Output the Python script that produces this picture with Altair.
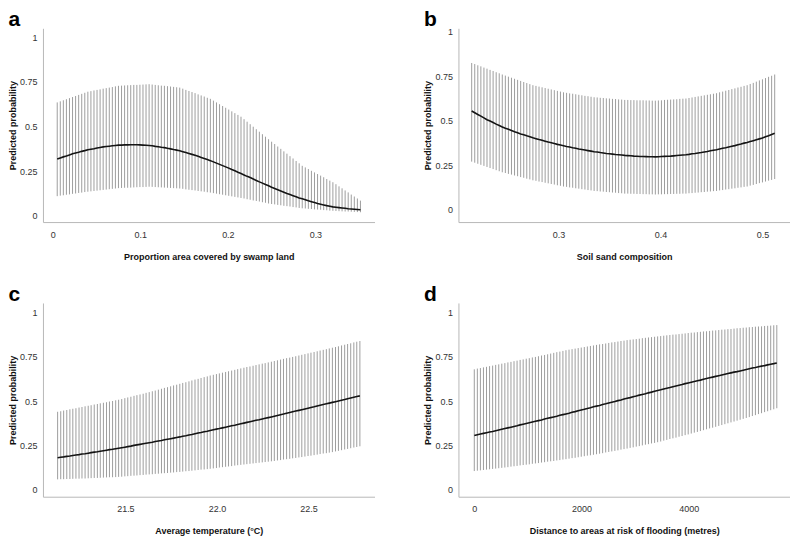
import altair as alt
import pandas as pd

FONT = "Liberation Sans"

# ---------------- Panel a: swamp land ----------------
a_x = [0.005, 0.0085, 0.012, 0.0155, 0.019, 0.0225, 0.026, 0.0295, 0.033, 0.0365,
       0.04, 0.0435, 0.047, 0.0505, 0.054, 0.0575, 0.061, 0.0645, 0.068, 0.0715,
       0.075, 0.0785, 0.082, 0.0855, 0.089, 0.0925, 0.096, 0.0995, 0.103, 0.1065,
       0.11, 0.1135, 0.117, 0.1205, 0.124, 0.1275, 0.131, 0.1345, 0.138, 0.1415,
       0.145, 0.1485, 0.152, 0.1555, 0.159, 0.1625, 0.166, 0.1695, 0.173, 0.1765,
       0.18, 0.1835, 0.187, 0.1905, 0.194, 0.1975, 0.201, 0.2045, 0.208, 0.2115,
       0.215, 0.2185, 0.222, 0.2255, 0.229, 0.2325, 0.236, 0.2395, 0.243, 0.2465,
       0.25, 0.2535, 0.257, 0.2605, 0.264, 0.2675, 0.271, 0.2745, 0.278, 0.2815,
       0.285, 0.2885, 0.292, 0.2955, 0.299, 0.3025, 0.306, 0.3095, 0.313, 0.3165,
       0.32, 0.3235, 0.327, 0.3305, 0.334, 0.3375, 0.341, 0.3445, 0.348, 0.3515]
a_mid = [0.318, 0.324, 0.330, 0.335, 0.341, 0.347,
         0.352, 0.356, 0.361, 0.365, 0.370,
         0.373, 0.376, 0.380, 0.383, 0.386,
         0.388, 0.390, 0.392, 0.394, 0.396,
         0.396, 0.397, 0.397, 0.398, 0.398,
         0.398, 0.397, 0.396, 0.395, 0.394,
         0.392, 0.389, 0.387, 0.384, 0.382,
         0.378, 0.375, 0.371, 0.368, 0.364,
         0.359, 0.354, 0.349, 0.344, 0.339,
         0.333, 0.327, 0.321, 0.315, 0.309,
         0.302, 0.295, 0.288, 0.281, 0.274,
         0.267, 0.259, 0.252, 0.244, 0.237,
         0.229, 0.221, 0.214, 0.206, 0.198,
         0.190, 0.183, 0.175, 0.168, 0.160,
         0.153, 0.146, 0.139, 0.132, 0.125,
         0.119, 0.113, 0.107, 0.100, 0.095,
         0.090, 0.084, 0.079, 0.074, 0.069,
         0.065, 0.061, 0.057, 0.054, 0.050,
         0.048, 0.046, 0.044, 0.042, 0.040,
         0.0385, 0.037, 0.0355, 0.034]
a_hi = [0.635, 0.641, 0.647, 0.653, 0.659, 0.665, 0.671, 0.677, 0.683, 0.689, 0.695,
        0.698, 0.702, 0.705, 0.708, 0.712, 0.715, 0.718, 0.721, 0.725, 0.728,
        0.729, 0.730, 0.731, 0.732, 0.733, 0.733, 0.734, 0.735, 0.736, 0.737,
        0.735, 0.733, 0.731, 0.729, 0.728, 0.726, 0.724, 0.722, 0.720, 0.718,
        0.712, 0.705, 0.699, 0.693, 0.687, 0.680, 0.674, 0.668, 0.661, 0.655,
        0.645, 0.635, 0.625, 0.615, 0.605, 0.595, 0.585, 0.575, 0.565, 0.555,
        0.541, 0.527, 0.513, 0.499, 0.485, 0.471, 0.457, 0.443, 0.429, 0.415,
        0.402, 0.388, 0.375, 0.361, 0.348, 0.334, 0.321, 0.307, 0.294, 0.280,
        0.271, 0.262, 0.252, 0.243, 0.234, 0.225, 0.216, 0.206, 0.197, 0.188,
        0.177, 0.165, 0.154, 0.142, 0.131, 0.119, 0.108, 0.097, 0.085]
a_lo = [0.110, 0.113, 0.115, 0.118, 0.120, 0.123, 0.125, 0.128, 0.130, 0.133, 0.135,
        0.137, 0.139, 0.141, 0.143, 0.145, 0.147, 0.149, 0.151, 0.153, 0.155,
        0.156, 0.157, 0.157, 0.158, 0.159, 0.160, 0.161, 0.161, 0.162, 0.163,
        0.162, 0.161, 0.160, 0.159, 0.158, 0.157, 0.156, 0.155, 0.154, 0.153,
        0.151, 0.148, 0.146, 0.144, 0.142, 0.139, 0.137, 0.135, 0.132, 0.130,
        0.127, 0.124, 0.121, 0.118, 0.115, 0.112, 0.109, 0.106, 0.103, 0.100,
        0.097, 0.093, 0.090, 0.086, 0.083, 0.080, 0.076, 0.073, 0.069, 0.066,
        0.064, 0.061, 0.059, 0.056, 0.054, 0.052, 0.049, 0.047, 0.044, 0.042,
        0.041, 0.039, 0.038, 0.036, 0.035, 0.034, 0.032, 0.031, 0.029, 0.028,
        0.027, 0.026, 0.025, 0.024, 0.024, 0.023, 0.022, 0.021, 0.020]

# ---------------- Panel b: soil sand ----------------
b_x = [0.215, 0.218, 0.221, 0.224, 0.227, 0.230, 0.233, 0.236, 0.239, 0.242,
       0.245, 0.248, 0.251, 0.254, 0.257, 0.260, 0.263, 0.266, 0.269, 0.272,
       0.275, 0.278, 0.281, 0.284, 0.287, 0.290, 0.293, 0.296, 0.299, 0.302,
       0.305, 0.308, 0.311, 0.314, 0.317, 0.320, 0.323, 0.326, 0.329, 0.332,
       0.335, 0.338, 0.341, 0.344, 0.347, 0.350, 0.353, 0.356, 0.359, 0.362,
       0.365, 0.368, 0.371, 0.374, 0.377, 0.380, 0.383, 0.386, 0.389, 0.392,
       0.395, 0.398, 0.401, 0.404, 0.407, 0.410, 0.413, 0.416, 0.419, 0.422,
       0.425, 0.428, 0.431, 0.434, 0.437, 0.440, 0.443, 0.446, 0.449, 0.452,
       0.455, 0.458, 0.461, 0.464, 0.467, 0.470, 0.473, 0.476, 0.479, 0.482,
       0.485, 0.488, 0.491, 0.494, 0.497, 0.500, 0.503, 0.506, 0.509, 0.512]
b_mid = [0.555, 0.545, 0.535, 0.526, 0.516, 0.506,
         0.498, 0.490, 0.481, 0.473, 0.465,
         0.458, 0.452, 0.445, 0.438, 0.432,
         0.426, 0.421, 0.415, 0.410, 0.404,
         0.399, 0.394, 0.390, 0.385, 0.380,
         0.376, 0.372, 0.367, 0.363, 0.359,
         0.355, 0.352, 0.348, 0.345, 0.341,
         0.338, 0.335, 0.332, 0.329, 0.326,
         0.324, 0.321, 0.319, 0.316, 0.314,
         0.312, 0.310, 0.309, 0.307, 0.305,
         0.304, 0.303, 0.301, 0.300, 0.299,
         0.2986, 0.2982, 0.2978, 0.2974, 0.297,
         0.2978, 0.2986, 0.2994, 0.3002, 0.301,
         0.3026, 0.3042, 0.3058, 0.3074, 0.309,
         0.311, 0.314, 0.316, 0.319, 0.321,
         0.324, 0.327, 0.331, 0.334, 0.337,
         0.341, 0.345, 0.348, 0.352, 0.356,
         0.360, 0.365, 0.369, 0.374, 0.378,
         0.383, 0.388, 0.393, 0.398, 0.403,
         0.410, 0.416, 0.423, 0.430]
b_hi = [0.825, 0.819, 0.812, 0.806, 0.799, 0.793, 0.786, 0.780, 0.773, 0.767, 0.760,
        0.754, 0.748, 0.742, 0.736, 0.730, 0.724, 0.718, 0.712, 0.706, 0.700,
        0.696, 0.692, 0.688, 0.684, 0.680, 0.676, 0.672, 0.668, 0.664, 0.660,
        0.657, 0.654, 0.652, 0.649, 0.646, 0.643, 0.640, 0.638, 0.635, 0.632,
        0.631, 0.629, 0.628, 0.626, 0.625, 0.623, 0.622, 0.620, 0.619, 0.617,
        0.617, 0.616, 0.616, 0.615, 0.615, 0.615, 0.614, 0.614, 0.613, 0.613,
        0.614, 0.615, 0.617, 0.618, 0.619, 0.620, 0.621, 0.623, 0.624, 0.625,
        0.628, 0.631, 0.634, 0.637, 0.640, 0.643, 0.646, 0.649, 0.652, 0.655,
        0.660, 0.664, 0.669, 0.673, 0.678, 0.682, 0.687, 0.691, 0.696, 0.700,
        0.707, 0.713, 0.720, 0.727, 0.733, 0.740, 0.747, 0.753, 0.760]
b_lo = [0.270, 0.264, 0.258, 0.252, 0.246, 0.240, 0.234, 0.228, 0.222, 0.216, 0.210,
        0.206, 0.201, 0.197, 0.192, 0.188, 0.183, 0.179, 0.174, 0.170, 0.165,
        0.162, 0.158, 0.155, 0.151, 0.148, 0.144, 0.141, 0.137, 0.134, 0.130,
        0.128, 0.125, 0.123, 0.120, 0.118, 0.115, 0.113, 0.110, 0.108, 0.105,
        0.104, 0.102, 0.101, 0.099, 0.098, 0.096, 0.095, 0.093, 0.092, 0.090,
        0.090, 0.089, 0.089, 0.088, 0.088, 0.087, 0.087, 0.086, 0.086, 0.085,
        0.086, 0.086, 0.087, 0.087, 0.088, 0.088, 0.089, 0.089, 0.090, 0.090,
        0.092, 0.093, 0.095, 0.096, 0.098, 0.099, 0.101, 0.102, 0.104, 0.105,
        0.108, 0.110, 0.113, 0.115, 0.118, 0.120, 0.123, 0.125, 0.128, 0.130,
        0.135, 0.139, 0.144, 0.149, 0.153, 0.158, 0.163, 0.167, 0.172]

# ---------------- Panel c: temperature ----------------
c_x = [21.130, 21.147, 21.163, 21.180, 21.197, 21.213, 21.230, 21.247, 21.263, 21.280,
       21.297, 21.313, 21.330, 21.347, 21.363, 21.380, 21.397, 21.413, 21.430, 21.447,
       21.463, 21.480, 21.497, 21.513, 21.530, 21.547, 21.563, 21.580, 21.597, 21.613,
       21.630, 21.647, 21.663, 21.680, 21.697, 21.713, 21.730, 21.747, 21.763, 21.780,
       21.797, 21.813, 21.830, 21.847, 21.863, 21.880, 21.897, 21.913, 21.930, 21.947,
       21.963, 21.980, 21.997, 22.013, 22.030, 22.047, 22.063, 22.080, 22.097, 22.113,
       22.130, 22.147, 22.163, 22.180, 22.197, 22.213, 22.230, 22.247, 22.263, 22.280,
       22.297, 22.313, 22.330, 22.347, 22.363, 22.380, 22.397, 22.413, 22.430, 22.447,
       22.463, 22.480, 22.497, 22.513, 22.530, 22.547, 22.563, 22.580, 22.597, 22.613,
       22.630, 22.647, 22.663, 22.680, 22.697, 22.713, 22.730, 22.747, 22.763, 22.780]
c_mid = [0.180, 0.183, 0.185, 0.188, 0.190, 0.193, 0.196, 0.198, 0.201, 0.203, 0.206,
         0.209, 0.212, 0.214, 0.217, 0.220, 0.223, 0.226, 0.228, 0.231, 0.234,
         0.237, 0.240, 0.243, 0.246, 0.250, 0.253, 0.256, 0.259, 0.262, 0.265,
         0.268, 0.272, 0.275, 0.278, 0.282, 0.285, 0.288, 0.291, 0.295, 0.298,
         0.302, 0.305, 0.309, 0.312, 0.316, 0.320, 0.323, 0.327, 0.330, 0.334,
         0.338, 0.342, 0.345, 0.349, 0.353, 0.357, 0.361, 0.364, 0.368, 0.372,
         0.376, 0.380, 0.384, 0.388, 0.392, 0.395, 0.399, 0.403, 0.407, 0.411,
         0.415, 0.419, 0.423, 0.427, 0.432, 0.436, 0.440, 0.444, 0.448, 0.452,
         0.456, 0.460, 0.464, 0.468, 0.473, 0.477, 0.481, 0.485, 0.489, 0.493,
         0.497, 0.501, 0.505, 0.509, 0.514, 0.518, 0.522, 0.526, 0.530]
c_hi = [0.440, 0.443, 0.447, 0.450, 0.454, 0.457, 0.460, 0.464, 0.467, 0.471, 0.474,
        0.477, 0.481, 0.484, 0.488, 0.491, 0.494, 0.498, 0.501, 0.505, 0.508,
        0.512, 0.517, 0.521, 0.525, 0.530, 0.534, 0.538, 0.542, 0.547, 0.551,
        0.556, 0.560, 0.565, 0.570, 0.575, 0.579, 0.584, 0.589, 0.593, 0.598,
        0.603, 0.607, 0.612, 0.617, 0.622, 0.626, 0.631, 0.636, 0.640, 0.645,
        0.649, 0.653, 0.657, 0.661, 0.665, 0.669, 0.673, 0.677, 0.681, 0.685,
        0.689, 0.693, 0.696, 0.700, 0.704, 0.708, 0.712, 0.715, 0.719, 0.723,
        0.727, 0.731, 0.735, 0.739, 0.743, 0.746, 0.750, 0.754, 0.758, 0.762,
        0.766, 0.770, 0.774, 0.778, 0.782, 0.786, 0.790, 0.794, 0.798, 0.802,
        0.806, 0.810, 0.815, 0.819, 0.823, 0.827, 0.832, 0.836, 0.840]
c_lo = [0.058, 0.059, 0.059, 0.060, 0.060, 0.061, 0.062, 0.062, 0.063, 0.063, 0.064,
        0.065, 0.066, 0.066, 0.067, 0.068, 0.069, 0.070, 0.070, 0.071, 0.072,
        0.073, 0.075, 0.076, 0.078, 0.079, 0.080, 0.082, 0.083, 0.085, 0.086,
        0.087, 0.089, 0.090, 0.092, 0.093, 0.094, 0.096, 0.097, 0.099, 0.100,
        0.102, 0.104, 0.105, 0.107, 0.109, 0.111, 0.113, 0.114, 0.116, 0.118,
        0.120, 0.122, 0.125, 0.127, 0.129, 0.131, 0.133, 0.136, 0.138, 0.140,
        0.142, 0.144, 0.146, 0.148, 0.150, 0.152, 0.154, 0.156, 0.158, 0.160,
        0.162, 0.165, 0.167, 0.170, 0.172, 0.174, 0.177, 0.179, 0.182, 0.184,
        0.187, 0.190, 0.192, 0.195, 0.198, 0.201, 0.204, 0.206, 0.209, 0.212,
        0.216, 0.219, 0.223, 0.227, 0.230, 0.234, 0.238, 0.241, 0.245]

# ---------------- Panel d: distance to flood risk ----------------
d_x = [0, 57, 114, 171, 228, 285, 342, 399, 456, 513,
       570, 627, 684, 741, 798, 855, 912, 969, 1026, 1083,
       1140, 1197, 1254, 1311, 1368, 1425, 1482, 1539, 1596, 1653,
       1710, 1767, 1824, 1881, 1938, 1995, 2052, 2109, 2166, 2223,
       2280, 2337, 2394, 2451, 2508, 2565, 2622, 2679, 2736, 2793,
       2850, 2907, 2964, 3021, 3078, 3135, 3192, 3249, 3306, 3363,
       3420, 3477, 3534, 3591, 3648, 3705, 3762, 3819, 3876, 3933,
       3990, 4047, 4104, 4161, 4218, 4275, 4332, 4389, 4446, 4503,
       4560, 4617, 4674, 4731, 4788, 4845, 4902, 4959, 5016, 5073,
       5130, 5187, 5244, 5301, 5358, 5415, 5472, 5529, 5586, 5643]
d_mid = [0.306, 0.310, 0.314, 0.318, 0.322, 0.326, 0.329, 0.333, 0.337, 0.341, 0.345,
         0.349, 0.353, 0.357, 0.361, 0.366, 0.370, 0.374, 0.378, 0.382, 0.386,
         0.390, 0.394, 0.399, 0.403, 0.407, 0.411, 0.415, 0.420, 0.424, 0.428,
         0.432, 0.437, 0.441, 0.446, 0.450, 0.454, 0.459, 0.463, 0.468, 0.472,
         0.476, 0.481, 0.485, 0.490, 0.494, 0.498, 0.503, 0.507, 0.512, 0.516,
         0.520, 0.525, 0.529, 0.534, 0.538, 0.542, 0.547, 0.551, 0.556, 0.560,
         0.564, 0.569, 0.573, 0.577, 0.582, 0.586, 0.590, 0.594, 0.599, 0.603,
         0.607, 0.611, 0.615, 0.619, 0.624, 0.628, 0.632, 0.636, 0.640, 0.644,
         0.648, 0.652, 0.656, 0.660, 0.664, 0.667, 0.671, 0.675, 0.679, 0.683,
         0.687, 0.690, 0.694, 0.698, 0.701, 0.705, 0.709, 0.712, 0.716]
d_hi = [0.680, 0.684, 0.687, 0.691, 0.694, 0.698, 0.701, 0.705, 0.708, 0.712, 0.715,
        0.719, 0.722, 0.726, 0.729, 0.733, 0.736, 0.740, 0.743, 0.747, 0.750,
        0.754, 0.758, 0.761, 0.765, 0.769, 0.773, 0.777, 0.780, 0.784, 0.788,
        0.791, 0.794, 0.797, 0.800, 0.803, 0.806, 0.809, 0.812, 0.815, 0.818,
        0.821, 0.823, 0.826, 0.829, 0.832, 0.834, 0.837, 0.840, 0.842, 0.845,
        0.847, 0.849, 0.851, 0.853, 0.856, 0.858, 0.860, 0.862, 0.864, 0.866,
        0.868, 0.870, 0.872, 0.874, 0.876, 0.877, 0.879, 0.881, 0.883, 0.885,
        0.887, 0.888, 0.890, 0.892, 0.894, 0.895, 0.897, 0.899, 0.900, 0.902,
        0.904, 0.905, 0.907, 0.908, 0.910, 0.912, 0.913, 0.915, 0.916, 0.918,
        0.919, 0.921, 0.922, 0.923, 0.925, 0.926, 0.927, 0.929, 0.930]
d_lo = [0.105, 0.107, 0.109, 0.111, 0.113, 0.115, 0.117, 0.119, 0.121, 0.123, 0.125,
        0.127, 0.130, 0.132, 0.134, 0.137, 0.139, 0.141, 0.143, 0.146, 0.148,
        0.150, 0.153, 0.155, 0.158, 0.160, 0.162, 0.165, 0.167, 0.170, 0.172,
        0.175, 0.178, 0.180, 0.183, 0.186, 0.189, 0.192, 0.194, 0.197, 0.200,
        0.203, 0.206, 0.210, 0.213, 0.216, 0.219, 0.222, 0.226, 0.229, 0.232,
        0.236, 0.239, 0.243, 0.246, 0.250, 0.254, 0.257, 0.261, 0.264, 0.268,
        0.272, 0.277, 0.281, 0.286, 0.290, 0.294, 0.299, 0.303, 0.308, 0.312,
        0.317, 0.322, 0.326, 0.331, 0.336, 0.341, 0.346, 0.350, 0.355, 0.360,
        0.365, 0.370, 0.375, 0.380, 0.385, 0.390, 0.395, 0.400, 0.405, 0.410,
        0.416, 0.421, 0.427, 0.432, 0.438, 0.443, 0.449, 0.454, 0.460]

y_ticks = [0, 0.25, 0.5, 0.75, 1]

W = 332
H = 194


def panel(xs, lo, mid, hi, letter, xtitle, xdom, ydom, xvals, xfmt):
    df = pd.DataFrame({"x": xs, "lo": lo, "mid": mid, "hi": hi})
    xscale = alt.Scale(domain=xdom, nice=False, zero=False)
    yscale = alt.Scale(domain=ydom, nice=False, zero=False)
    xaxis = alt.Axis(title=xtitle, values=xvals, format=xfmt)
    yaxis = alt.Axis(title="Predicted probability", values=y_ticks, format=".2~f")
    base = alt.Chart(df)
    rules = base.mark_rule(color="#9e9e9e", strokeWidth=1).encode(
        x=alt.X("x:Q", scale=xscale, axis=xaxis),
        y=alt.Y("lo:Q", scale=yscale, axis=yaxis),
        y2="hi:Q",
    )
    line = base.mark_line(color="#141414", strokeWidth=1.6).encode(
        x=alt.X("x:Q", scale=xscale, axis=xaxis),
        y=alt.Y("mid:Q", scale=yscale, axis=yaxis),
    )
    return alt.layer(rules, line).properties(
        width=W,
        height=H,
        title=alt.TitleParams(letter, anchor="start", fontSize=21, fontWeight="bold",
                              font=FONT, color="#000", offset=-2),
    )


pa = panel(a_x, a_lo, a_mid, a_hi, "a", "Proportion area covered by swamp land",
           [-0.0113, 0.3676], [-0.035, 1.05], [0, 0.1, 0.2, 0.3], ".1~f")
pb = panel(b_x, b_lo, b_mid, b_hi, "b", "Soil sand composition",
           [0.202, 0.527], [-0.07, 1.02], [0.3, 0.4, 0.5], ".1f")
pc = panel(c_x, c_lo, c_mid, c_hi, "c", "Average temperature (°C)",
           [21.05, 22.86], [-0.04, 1.055], [21.5, 22.0, 22.5], ".1f")
pd_ = panel(d_x, d_lo, d_mid, d_hi, "d", "Distance to areas at risk of flooding (metres)",
            [-296, 5889], [-0.04, 1.055], [0, 2000, 4000], "d")

chart = alt.vconcat(
    alt.hconcat(pa, pb, spacing=49),
    alt.hconcat(pc, pd_, spacing=49),
    spacing=23,
).properties(
    padding={"left": 0, "top": 0, "right": 0, "bottom": 0}
).configure_view(
    stroke=None
).configure_axis(
    domainColor="#b8b8b8",
    domainWidth=1,
    ticks=False,
    grid=False,
    labelFont=FONT,
    labelFontSize=9,
    labelColor="#333333",
    titleFont=FONT,
    titleFontSize=9,
    titleFontWeight="bold",
    titleColor="#111111",
).configure_axisY(
    labelPadding=6,
    titlePadding=2,
).configure_axisX(
    labelPadding=8,
    titlePadding=13,
)

chart.save("out.html", embed_options={"renderer": "svg", "actions": False})
